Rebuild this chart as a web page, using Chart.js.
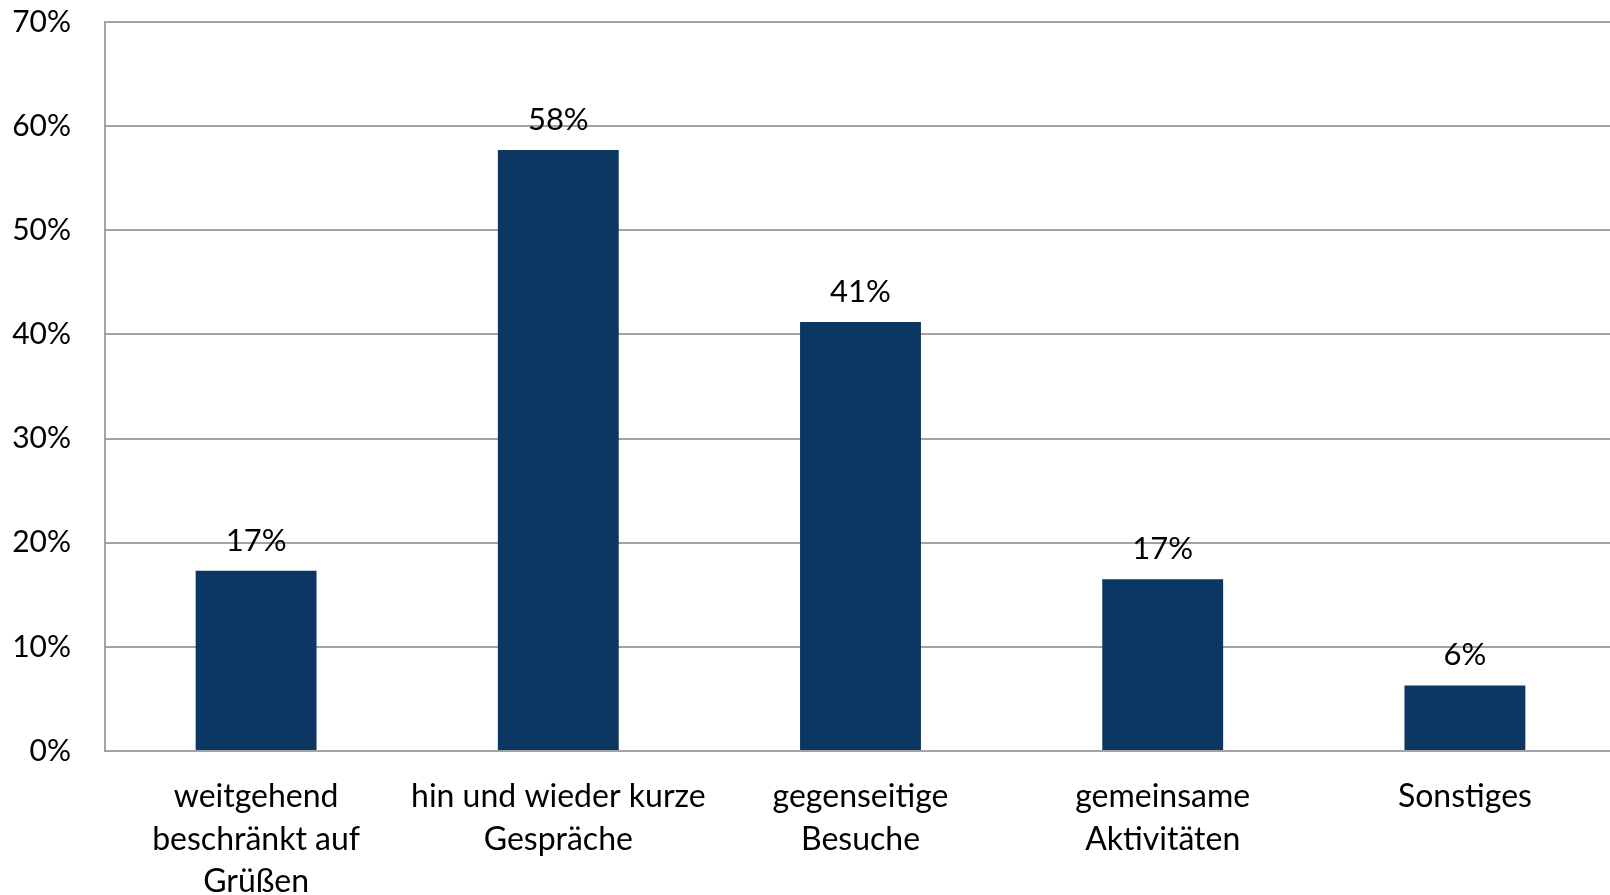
<!DOCTYPE html>
<html>
<head>
<meta charset="utf-8">
<script src="https://cdn.jsdelivr.net/npm/chart.js@4/dist/chart.umd.min.js"></script>
<style>
  html, body { margin: 0; padding: 0; background: #fff; overflow: hidden; }
  #wrap { width: 1616px; height: 895px; }
</style>
</head>
<body>
<div id="wrap"><canvas id="contactChart"></canvas></div>
<script>
// data
const categories = [
    ['weitgehend', 'beschränkt auf', 'Grüßen'],
    ['hin und wieder kurze', 'Gespräche'],
    ['gegenseitige', 'Besuche'],
    ['gemeinsame', 'Aktivitäten'],
    ['Sonstiges']
];
const shares = [17.3, 57.7, 41.2, 16.5, 6.3];
const yTicks = [0, 10, 20, 30, 40, 50, 60, 70];

const barBlue = '#0b3762';
const gridGrey = '#a3a3a3';
const font = 'Lato';

// value labels above bars
const barLabels = {
    id: 'barLabels',
    afterDatasetsDraw(chart) {
        const ctx = chart.ctx;
        const meta = chart.getDatasetMeta(0);
        ctx.save();
        ctx.font = '31px ' + font;
        ctx.fillStyle = '#000';
        ctx.textAlign = 'center';
        ctx.textBaseline = 'alphabetic';
        meta.data.forEach((bar, i) => {
            ctx.fillText(Math.round(shares[i]) + '%', bar.x, bar.y - 20);
        });
        ctx.restore();
    }
};

const ctx = document.getElementById('contactChart').getContext('2d');
const chart = new Chart(ctx, {
    type: 'bar',
    data: {
        labels: categories,
        datasets: [{
            data: shares,
            backgroundColor: barBlue,
            categoryPercentage: 1,
            barPercentage: 0.4
        }]
    },
    options: {
        responsive: true,
        maintainAspectRatio: false,
        animation: false,
        layout: {
            padding: { left: 0, right: 0, top: 22, bottom: 0 }
        },
        plugins: {
            legend: { display: false },
            tooltip: { enabled: false }
        },
        scales: {
            x: {
                grid: { display: false, drawTicks: false },
                border: { color: gridGrey, width: 2 },
                ticks: {
                    color: '#000',
                    padding: 25,
                    maxRotation: 0,
                    autoSkip: false,
                    font: { family: font, size: 32, lineHeight: 1.32 }
                },
                afterFit: (scale) => {
                    scale.height = 144;
                    scale.paddingLeft = 0;
                    scale.paddingRight = 0;
                }
            },
            y: {
                min: 0,
                max: 70,
                afterBuildTicks: (scale) => {
                    scale.ticks = yTicks.map(v => ({ value: v }));
                },
                grid: { color: gridGrey, lineWidth: 2, drawTicks: false },
                border: { color: gridGrey, width: 2 },
                ticks: {
                    color: '#000',
                    padding: 34,
                    font: { family: font, size: 30 },
                    callback: (v) => v + '%'
                },
                afterFit: (scale) => {
                    scale.width = 105;
                    scale.paddingTop = 0;
                    scale.paddingBottom = 0;
                }
            }
        }
    },
    plugins: [barLabels]
});
</script>
</body>
</html>
